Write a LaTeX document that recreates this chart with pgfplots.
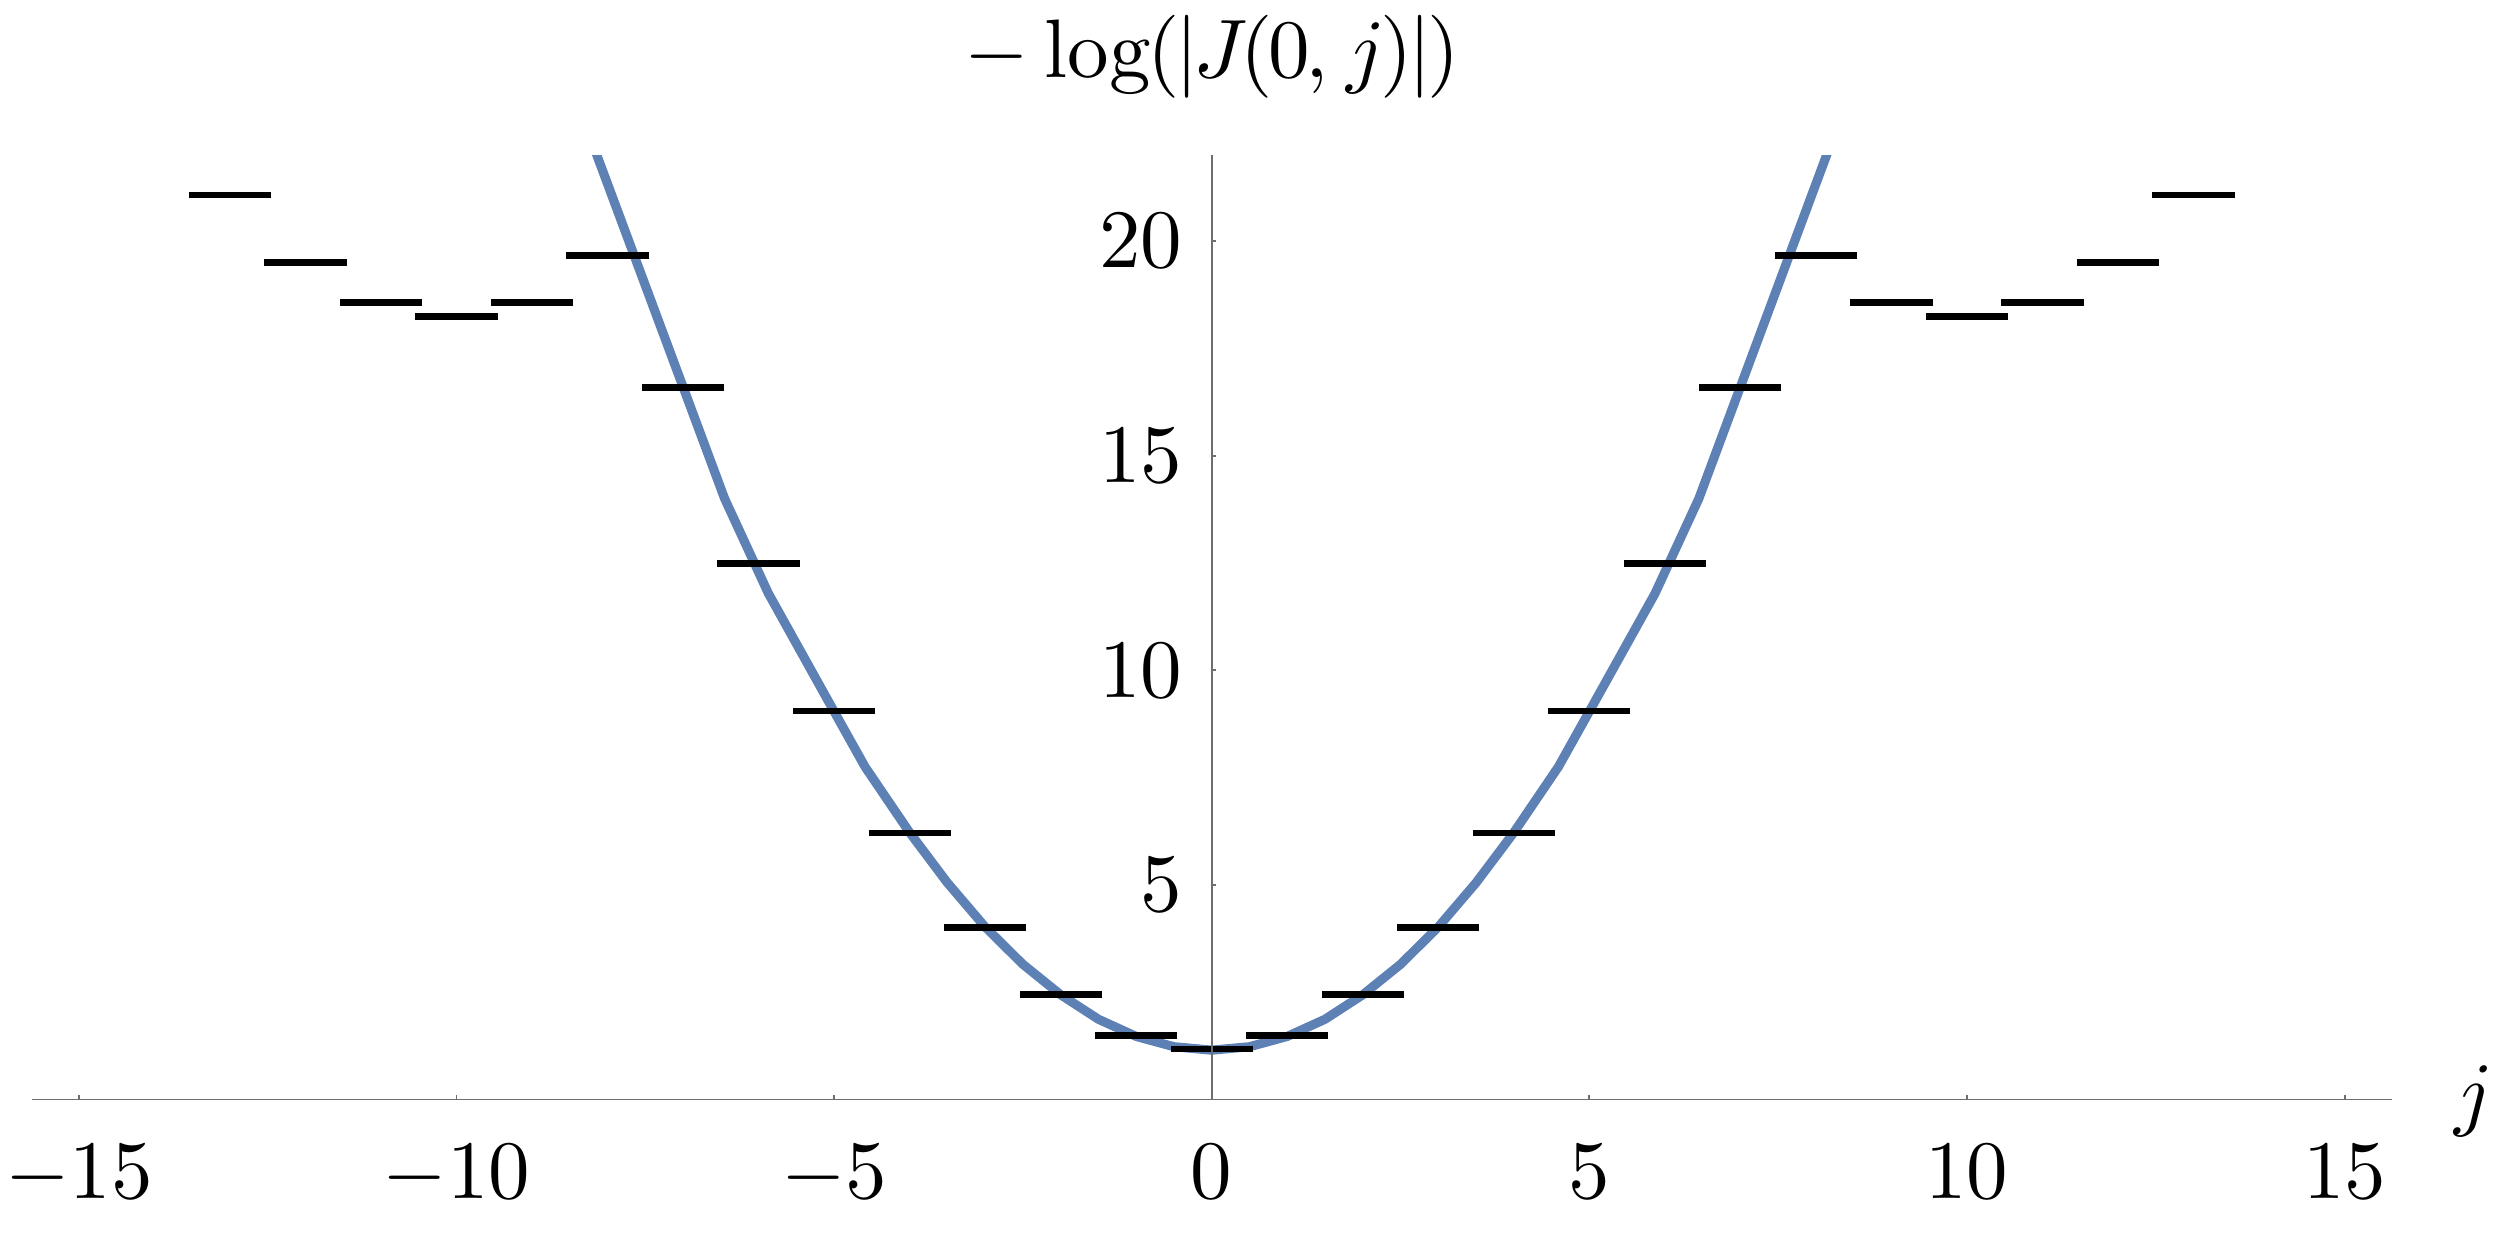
\documentclass[border=0pt]{standalone}
\usepackage{pgfplots}
\usepackage{pgfplotstable}
\pgfplotsset{compat=1.18}
\definecolor{mblue}{RGB}{94,129,181}
\definecolor{axgray}{RGB}{110,110,110}

\pgfplotstableread{
j v
-13 21.07
-12 19.50
-11 18.56
-10 18.24
-9 18.56
-8 19.67
-7 16.58
-6 12.49
-5 9.05
-4 6.21
-3 4.01
-2 2.45
-1 1.50
0 1.18
1 1.50
2 2.45
3 4.01
4 6.21
5 9.05
6 12.49
7 16.58
8 19.67
9 18.56
10 18.24
11 18.56
12 19.50
13 21.07
}\segs

\pgfplotstableread{
x y
-8.30 22.75
-6.45 14.00
-5.87 11.79
-5.00 9.04
-4.59 7.75
-4.00 6.22
-3.50 5.05
-3.00 4.02
-2.50 3.15
-2.00 2.44
-1.50 1.87
-1.00 1.47
-0.50 1.23
0.00 1.15
0.50 1.23
1.00 1.47
1.50 1.87
2.00 2.44
2.50 3.15
3.00 4.02
3.50 5.05
4.00 6.22
4.59 7.75
5.00 9.04
5.87 11.79
6.45 14.00
8.30 22.75
}\curve

\begin{document}
\begin{tikzpicture}
\begin{axis}[
  scale only axis,
  width=284.4pt, height=113.8pt,
  xmin=-15.62, xmax=15.63, ymin=0, ymax=22,
  axis lines=middle,
  axis line style={draw=axgray, line width=0.22pt, -},
  every inner x axis line/.append style={-},
  every inner y axis line/.append style={-},
  hide obscured x ticks=false,
  hide obscured y ticks=false,
  xtick={-15,-10,-5,0,5,10,15},
  ytick={5,10,15,20},
  minor tick num=0,
  tick align=inside,
  major tick length=0.55pt,
  tick style={draw=axgray, line width=0.22pt},
  xticklabel style={yshift=-2pt},
  axis on top=true,
  clip mode=individual,
]
\addplot[mblue, line width=1.1pt, line join=round] table[x=x, y=y] {\curve};
\addplot[only marks, mark=-, mark size=4.95pt, mark options={line width=0.81pt, draw=black}] table[x=j, y=v] {\segs};
\coordinate (ytop) at (axis cs:0,22);
\coordinate (xend) at (axis cs:15.63,0);
\end{axis}
\node[anchor=base, yshift=9.3pt, inner sep=0pt] at (ytop) {$\mathord{-}\mkern3.5mu\mathord{\log}\mkern-1mu(\mkern-1mu|\mkern-1mu J\mkern-1.5mu(\mkern-1mu 0\mkern-1mu,\mkern1mu j\mkern-1mu)\mkern-1mu|\mkern-1mu)$};
\node[anchor=base west, xshift=7.3pt, yshift=-2.5pt, inner sep=0pt] at (xend) {$j$};
\pgfresetboundingbox
\path ([shift={(-3.86pt,-16.1pt)}]current axis.south west) rectangle ([shift={(13pt,18.7pt)}]current axis.north east);
\end{tikzpicture}
\end{document}
